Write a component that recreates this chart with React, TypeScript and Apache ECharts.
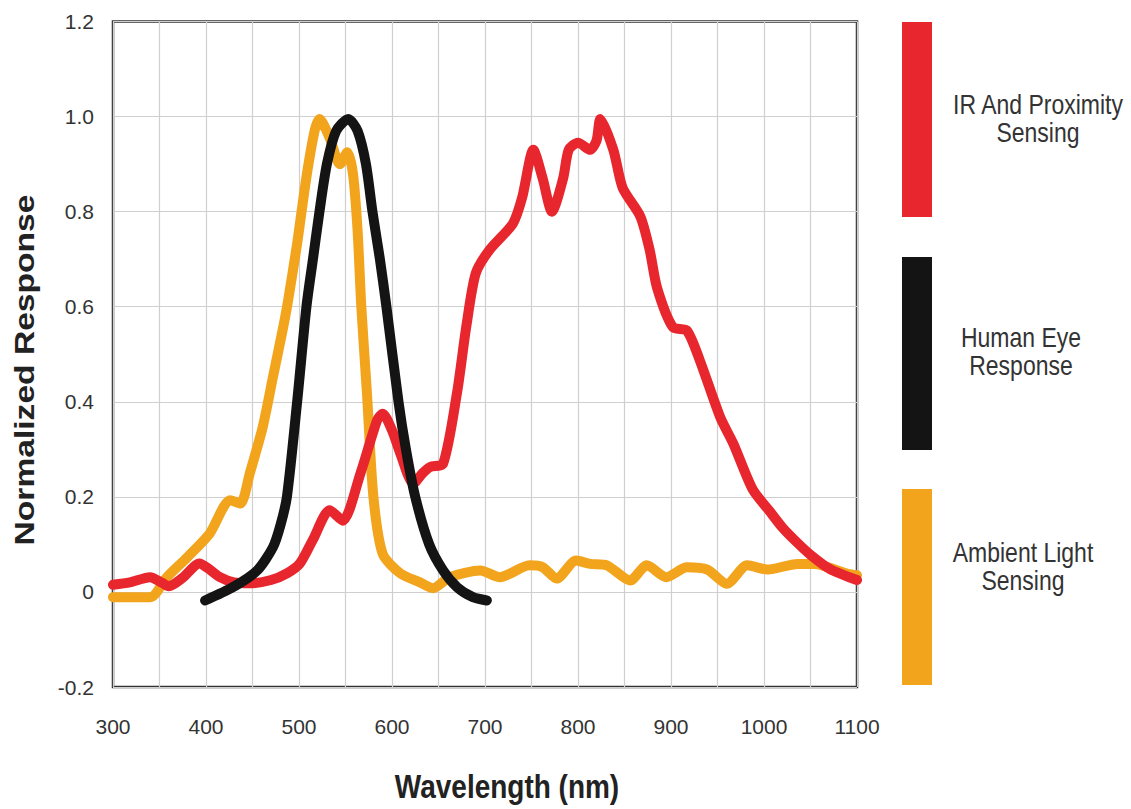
import React, { useEffect, useRef } from "react";
import * as echarts from "echarts";

const FONT = "'Liberation Sans', Arial, Helvetica, sans-serif";

const xTicks = [300, 400, 500, 600, 700, 800, 900, 1000, 1100];
const yTicks = [-0.2, 0, 0.2, 0.4, 0.6, 0.8, 1.0, 1.2];

const irWavelength = [300, 318, 340, 352, 360, 375, 393, 402, 415, 430, 447, 470, 487, 501, 515, 533, 547, 566, 584, 590, 600, 609, 623, 633, 641, 655, 670, 680, 690, 705, 730, 740, 752, 762, 772, 784, 790, 800, 813, 820, 824, 838, 848, 867, 877, 885, 902, 917, 931, 953, 967, 988, 1006, 1020, 1035, 1050, 1071, 1100];
const irResponse = [0.015, 0.02, 0.031, 0.02, 0.012, 0.03, 0.06, 0.05, 0.031, 0.02, 0.018, 0.025, 0.039, 0.06, 0.11, 0.172, 0.15, 0.249, 0.361, 0.375, 0.34, 0.291, 0.228, 0.25, 0.263, 0.27, 0.42, 0.56, 0.67, 0.72, 0.775, 0.83, 0.93, 0.87, 0.8, 0.87, 0.93, 0.945, 0.93, 0.95, 0.995, 0.93, 0.85, 0.79, 0.72, 0.64, 0.557, 0.55, 0.487, 0.367, 0.312, 0.215, 0.17, 0.135, 0.105, 0.078, 0.048, 0.025];

const eyeWavelength = [399, 429, 455, 472, 480, 487, 498, 508, 515, 522, 530, 540, 553, 563, 572, 579, 587, 594, 607, 615, 625, 640, 655, 670, 687, 702];
const eyeResponse = [-0.018, 0.01, 0.045, 0.094, 0.14, 0.2, 0.4, 0.6, 0.7, 0.8, 0.9, 0.97, 0.995, 0.97, 0.9, 0.8, 0.7, 0.6, 0.4, 0.3, 0.2, 0.1, 0.045, 0.01, -0.011, -0.018];

const alsWavelength = [300, 340, 358, 380, 404, 426, 437, 447, 461, 472, 483, 488, 498, 508, 517, 522, 533, 544, 552, 558, 563, 567, 573, 580, 590, 609, 630, 644, 662, 695, 716, 748, 762, 777, 798, 813, 831, 856, 874, 895, 917, 939, 960, 982, 1004, 1036, 1054, 1090, 1100];
const alsResponse = [-0.011, -0.011, 0.031, 0.073, 0.123, 0.193, 0.186, 0.249, 0.347, 0.452, 0.557, 0.61, 0.733, 0.873, 0.972, 0.995, 0.955, 0.9, 0.925, 0.88, 0.76, 0.6, 0.42, 0.2, 0.08, 0.039, 0.02, 0.008, 0.031, 0.045, 0.031, 0.056, 0.052, 0.028, 0.066, 0.059, 0.056, 0.024, 0.056, 0.031, 0.052, 0.047, 0.017, 0.056, 0.047, 0.059, 0.059, 0.038, 0.035];

const seriesNames = ["IR And Proximity Sensing", "Human Eye Response", "Ambient Light Sensing"];
const legendLines = [["IR And Proximity", "Sensing"], ["Human Eye", "Response"], ["Ambient Light", "Sensing"]];
const seriesColors = ["#e8262d", "#141414", "#f2a41c"];

const pairs = (xs: number[], ys: number[]) => xs.map((x, i) => [x, ys[i]]);

export default function App() {
  const ref = useRef<HTMLDivElement>(null);
  useEffect(() => {
    if (!ref.current) return;
    const chart = echarts.init(ref.current, undefined, { renderer: "svg" });
    const legendY = [22, 257, 489];
    const legendH = [195, 193, 196];
    const legendTextX = [1038, 1021, 1023];
    const legendTextY = [104, 337.5, 552.5];
    const graphics: any[] = [];
    legendLines.forEach((lines, i) => {
      graphics.push({
        type: "rect",
        shape: { x: 902, y: legendY[i], width: 30, height: legendH[i] },
        style: { fill: seriesColors[i] },
      });
      lines.forEach((line, j) => {
        graphics.push({
          type: "text",
          x: legendTextX[i],
          y: legendTextY[i] + j * 28,
          scaleY: 1.2,
          style: {
            text: line,
            align: "center",
            verticalAlign: "middle",
            font: `23px ${FONT}`,
            fill: "#333",
          },
        });
      });
    });
    graphics.push({
      type: "text",
      x: 24,
      y: 370,
      rotation: Math.PI / 2,
      scaleX: 1.2,
      style: {
        text: "Normalized Response",
        align: "center",
        verticalAlign: "middle",
        font: `bold 28px ${FONT}`,
        fill: "#222",
      },
    });
    graphics.push({
      type: "text",
      x: 507,
      y: 787,
      scaleY: 1.2,
      style: {
        text: "Wavelength (nm)",
        align: "center",
        verticalAlign: "middle",
        font: `bold 28px ${FONT}`,
        fill: "#222",
      },
    });

    const lineSeries = (i: number, data: number[][], z: number) => ({
      type: "line",
      name: seriesNames[i],
      data,
      showSymbol: false,
      smooth: 0.25,
      z,
      lineStyle: { color: seriesColors[i], width: 10, cap: "round", join: "round" },
      itemStyle: { color: seriesColors[i] },
    });

    chart.setOption({
      animation: false,
      backgroundColor: "#fff",
      grid: {
        left: 113,
        top: 21.5,
        width: 744,
        height: 665.5,
        show: true,
        borderColor: "#333",
        borderWidth: 2.5,
        backgroundColor: "transparent",
      },
      xAxis: {
        type: "value",
        min: xTicks[0],
        max: xTicks[xTicks.length - 1],
        interval: 50,
        axisLine: { show: false },
        axisTick: { show: false },
        splitLine: { show: true, lineStyle: { color: "#cfcfcf", width: 1.2 } },
        axisLabel: {
          margin: 29,
          fontSize: 21,
          color: "#333",
          fontFamily: FONT,
          formatter: (v: number) => (xTicks.includes(v) ? String(v) : ""),
        },
      },
      yAxis: {
        type: "value",
        min: yTicks[0],
        max: yTicks[yTicks.length - 1],
        interval: 0.2,
        axisLine: { show: false },
        axisTick: { show: false },
        splitLine: { show: true, lineStyle: { color: "#cfcfcf", width: 1.2 } },
        axisLabel: {
          margin: 19,
          fontSize: 21,
          color: "#333",
          fontFamily: FONT,
          formatter: (v: number) => (Math.abs(v) < 1e-9 ? "0" : v.toFixed(1)),
        },
      },
      graphic: graphics,
      series: [
        lineSeries(2, pairs(alsWavelength, alsResponse), 2),
        lineSeries(0, pairs(irWavelength, irResponse), 3),
        lineSeries(1, pairs(eyeWavelength, eyeResponse), 4),
      ],
    });
    return () => chart.dispose();
  }, []);
  return (
    <div
      ref={ref}
      style={{ position: "absolute", left: 0, top: 0, width: 1131, height: 809 }}
    />
  );
}
